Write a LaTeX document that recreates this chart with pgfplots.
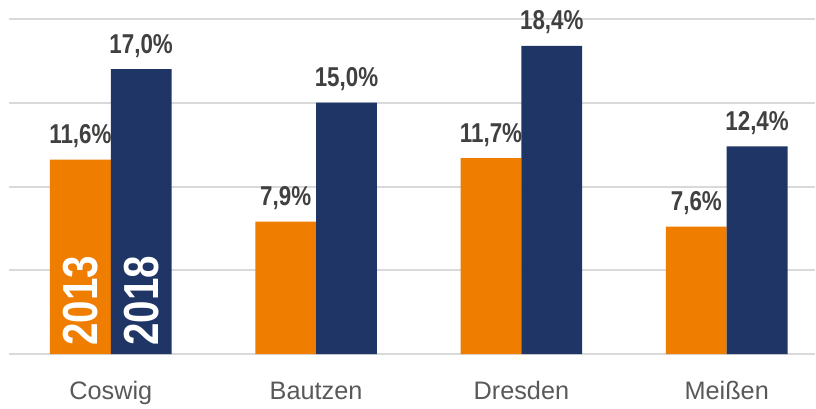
\documentclass[border=0pt]{standalone}
\usepackage{fontspec}
\setmainfont{Liberation Sans}
\newfontfamily\narrow[FakeStretch=0.82]{Liberation Sans}
\usepackage{pgfplots}
\pgfplotsset{compat=1.18}
\definecolor{orange13}{HTML}{EF7D00}
\definecolor{navy18}{HTML}{1F3566}
\definecolor{gridgray}{HTML}{D9D9D9}
\definecolor{valgray}{HTML}{404040}
\definecolor{labelgray}{HTML}{595959}

\begin{document}
\begin{tikzpicture}
\begin{axis}[
    scale only axis,
    width=606pt,
    height=252pt,
    ymin=0, ymax=20,
    xmin=-0.495, xmax=3.43,
    ybar=0pt,
    bar width=0.296,
    axis line style={draw=none},
    ytick={0,5,10,15,20},
    yticklabels={},
    ymajorgrids,
    grid style={gridgray, line width=1.5pt},
    xtick={0,1,2,3},
    xticklabels={Coswig,Bautzen,Dresden,Meißen},
    major tick length=0pt,
    xticklabel style={font=\fontsize{19}{19}\selectfont, text=labelgray, anchor=base, yshift=-34pt},
    nodes near coords={\pgfmathprintnumber[fixed,fixed zerofill,precision=1,use comma]{\pgfplotspointmeta}\%},
    nodes near coords style={font=\narrow\bfseries\fontsize{20.5}{20.5}\selectfont, text=valgray, anchor=base, inner sep=0pt, yshift=12pt},
    /pgf/number format/assume math mode=true,
    clip=false,
]
\addplot[fill=orange13, draw=none] coordinates {(0,11.6) (1,7.9) (2,11.7) (3,7.6)};
\addplot[fill=navy18, draw=none] coordinates {(0,17.0) (1,15.0) (2,18.4) (3,12.4)};
\node[rotate=90, anchor=west, inner sep=0pt, text=white, font=\narrow\bfseries\fontsize{37}{37}\selectfont] at (axis cs:-0.148,0.48) {2013};
\node[rotate=90, anchor=west, inner sep=0pt, text=white, font=\narrow\bfseries\fontsize{37}{37}\selectfont] at (axis cs:0.148,0.48) {2018};
\end{axis}
\path (-6pt,-41.25pt) rectangle (606pt,266.25pt);
\end{tikzpicture}
\end{document}
